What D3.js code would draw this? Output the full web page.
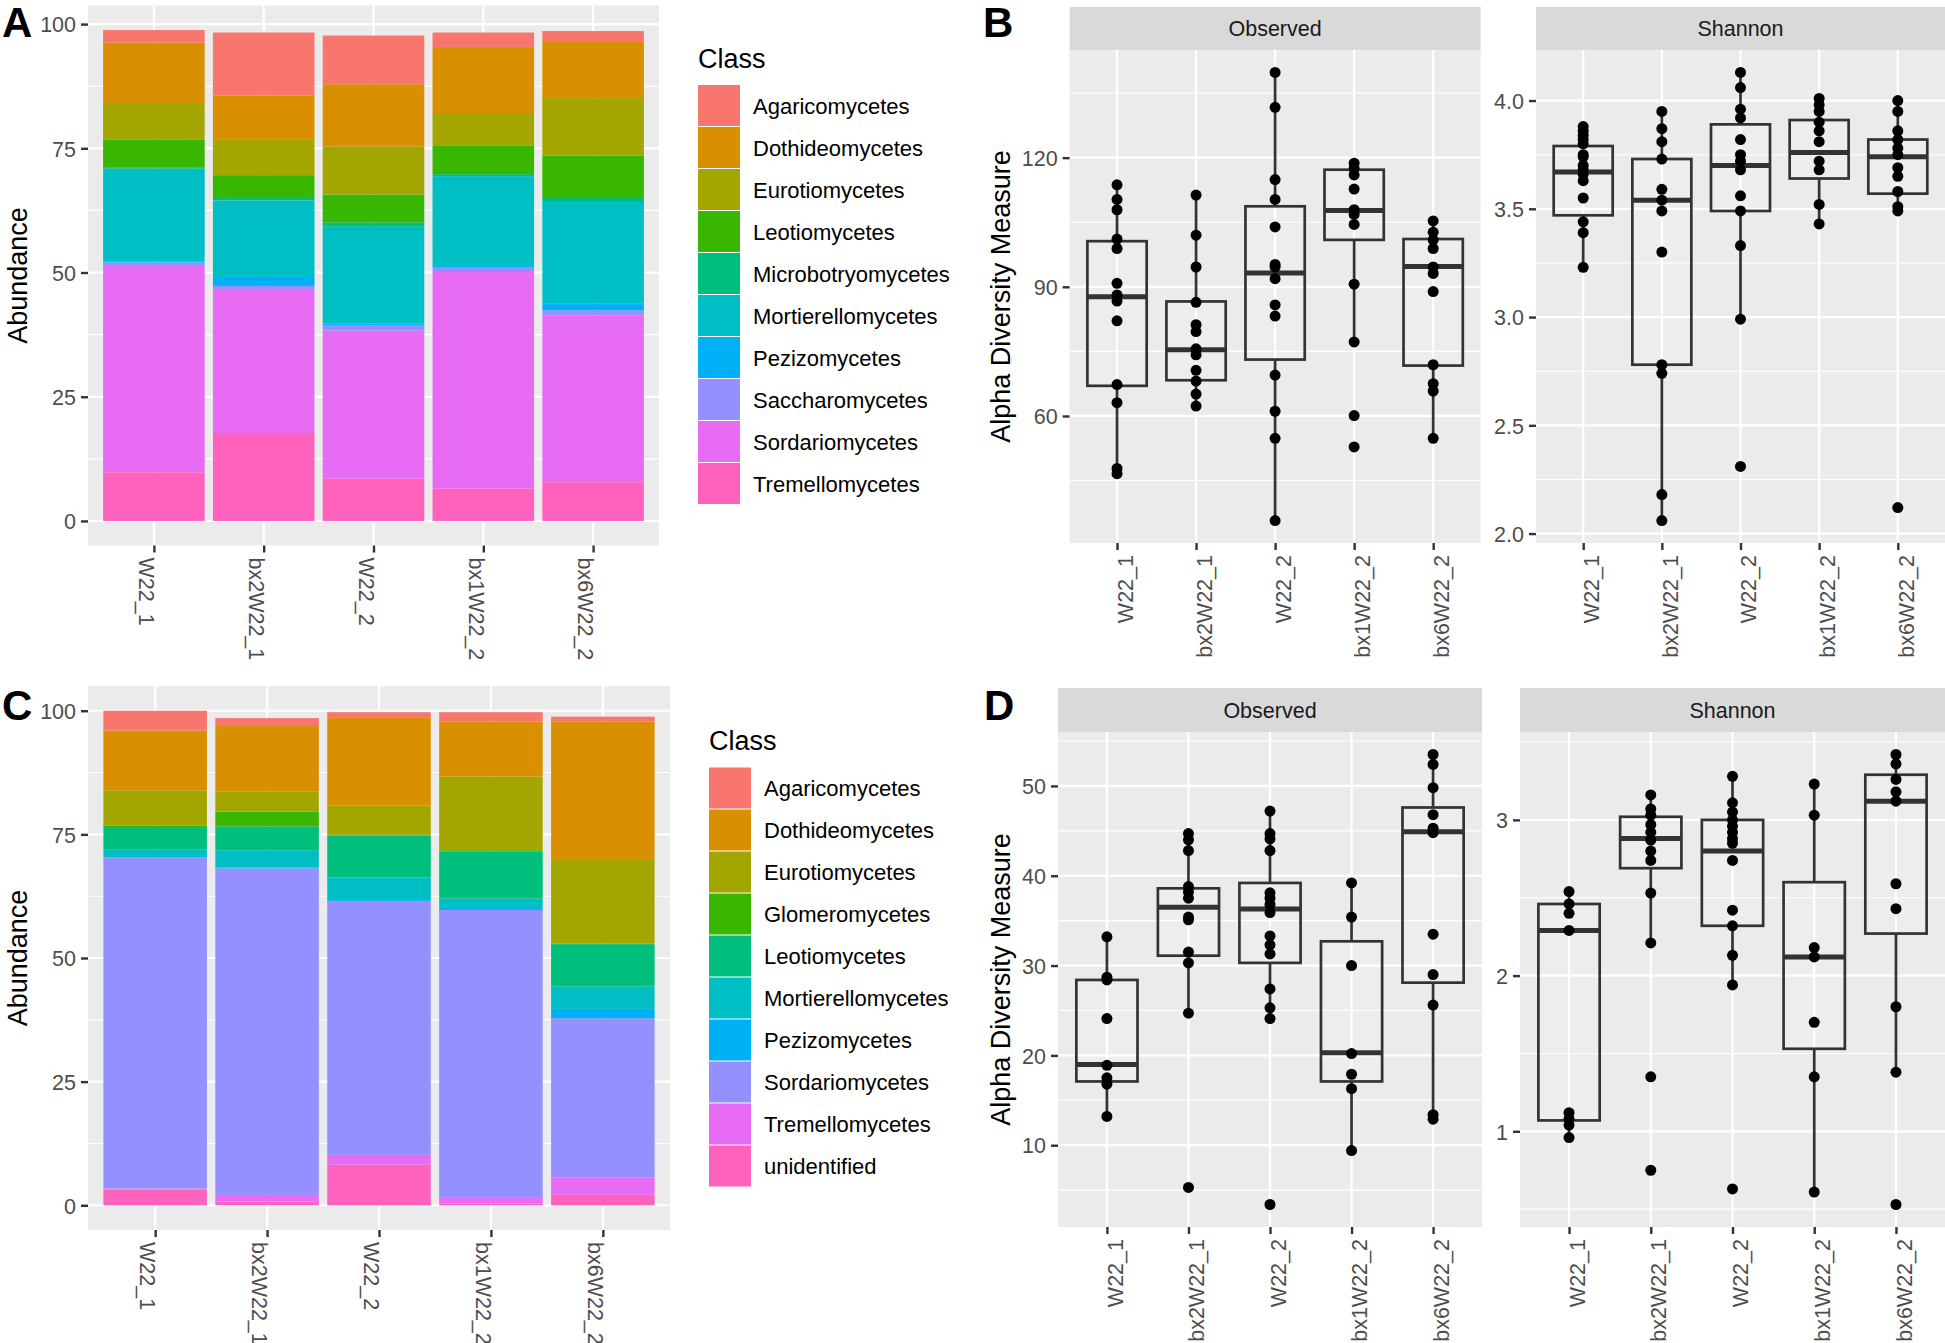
<!DOCTYPE html>
<html><head><meta charset="utf-8">
<script src="https://cdn.jsdelivr.net/npm/d3@7"></script>
<style>
html,body{margin:0;padding:0;background:#fff;}
svg{display:block;font-family:"Liberation Sans",Arial,Helvetica,sans-serif;}
</style></head><body>
<svg id="chart" width="1945" height="1343"></svg>
<script>
// ---------- categories ----------
const samples = ["W22_1", "bx2W22_1", "W22_2", "bx1W22_2", "bx6W22_2"];

// ---------- Panel A: class composition (stacked, %) ----------
const classesA = ["Agaricomycetes","Dothideomycetes","Eurotiomycetes","Leotiomycetes","Microbotryomycetes",
                  "Mortierellomycetes","Pezizomycetes","Saccharomycetes","Sordariomycetes","Tremellomycetes"];
const colorsA = ["#F8766D","#D89000","#A3A500","#39B600","#00BF7D","#00BFC4","#00B0F6","#9590FF","#E76BF3","#FF62BC"];
const aAgaricomycetes     = [2.5, 12.7, 9.8, 2.9, 2.2];
const aDothideomycetes    = [12.4, 8.9, 12.5, 13.3, 11.3];
const aEurotiomycetes     = [7.2, 7.1, 9.7, 6.5, 11.6];
const aLeotiomycetes      = [5.5, 4.6, 5.6, 5.8, 8.3];
const aMicrobotryomycetes = [0.3, 0.5, 0.9, 0.4, 1.0];
const aMortierellomycetes = [18.7, 15.6, 19.5, 17.9, 20.5];
const aPezizomycetes      = [0.2, 1.6, 0.4, 0.4, 1.3];
const aSaccharomycetes    = [0.7, 0.8, 1.0, 1.0, 1.1];
const aSordariomycetes    = [41.5, 28.8, 29.8, 43.6, 33.5];
const aTremellomycetes    = [9.8, 17.7, 8.5, 6.5, 7.8];
const valuesA = [aAgaricomycetes,aDothideomycetes,aEurotiomycetes,aLeotiomycetes,aMicrobotryomycetes,
                 aMortierellomycetes,aPezizomycetes,aSaccharomycetes,aSordariomycetes,aTremellomycetes];

// ---------- Panel C: class composition (stacked, %) ----------
const classesC = ["Agaricomycetes","Dothideomycetes","Eurotiomycetes","Glomeromycetes","Leotiomycetes",
                  "Mortierellomycetes","Pezizomycetes","Sordariomycetes","Tremellomycetes","unidentified"];
const colorsC = ["#F8766D","#D89000","#A3A500","#39B600","#00BF7D","#00BFC4","#00B0F6","#9590FF","#E76BF3","#FF62BC"];
const cAgaricomycetes     = [4.0, 1.6, 1.0, 1.9, 1.0];
const cDothideomycetes    = [12.1, 13.2, 17.9, 11.1, 27.8];
const cEurotiomycetes     = [7.1, 4.1, 5.9, 14.9, 17.1];
const cGlomeromycetes     = [0.5, 3.0, 0.1, 0.3, 0.1];
const cLeotiomycetes      = [4.4, 4.8, 8.5, 9.5, 8.6];
const cMortierellomycetes = [1.5, 3.5, 4.6, 1.9, 4.5];
const cPezizomycetes      = [0.1, 0.2, 0.3, 0.4, 1.9];
const cSordariomycetes    = [66.9, 66.0, 51.2, 58.2, 32.2];
const cTremellomycetes    = [0.2, 1.3, 2.0, 1.1, 3.5];
const cUnidentified       = [3.2, 0.8, 8.2, 0.4, 2.1];
const valuesC = [cAgaricomycetes,cDothideomycetes,cEurotiomycetes,cGlomeromycetes,cLeotiomycetes,
                 cMortierellomycetes,cPezizomycetes,cSordariomycetes,cTremellomycetes,cUnidentified];

const barTicks = [0, 25, 50, 75, 100];
const barMinor = [12.5, 37.5, 62.5, 87.5];

// ---------- Panel B: alpha diversity ----------
const bObservedPoints = [
  [113.7, 110.3, 107.9, 101.1, 98.9, 90.8, 88.1, 86.7, 82.1, 67.3, 63.1, 47.8, 46.6],
  [111.3, 102.0, 94.6, 86.4, 81.2, 79.6, 75.6, 74.2, 70.6, 68.1, 65.1, 62.3],
  [139.8, 131.7, 114.9, 110.3, 103.9, 95.2, 94.6, 91.9, 85.8, 83.2, 69.5, 61.1, 54.8, 35.7],
  [118.7, 117.5, 116.0, 112.7, 107.9, 106.8, 104.5, 90.6, 77.2, 60.1, 52.8],
  [105.3, 102.7, 100.9, 98.9, 94.6, 93.1, 88.9, 71.9, 67.5, 65.8, 54.8]
];
// [lower whisker, Q1, median, Q3, upper whisker]
const bObservedBoxes = [
  [46.6, 67.0, 87.7, 100.6, 113.7],
  [62.3, 68.3, 75.4, 86.6, 111.3],
  [35.7, 73.1, 93.2, 108.7, 139.8],
  [77.2, 100.9, 107.7, 117.2, 118.7],
  [54.8, 71.7, 94.7, 101.1, 105.3]
];
const bShannonPoints = [
  [3.88, 3.86, 3.84, 3.82, 3.80, 3.75, 3.74, 3.70, 3.68, 3.66, 3.63, 3.55, 3.44, 3.39, 3.23],
  [3.95, 3.87, 3.81, 3.73, 3.59, 3.54, 3.49, 3.30, 2.78, 2.74, 2.18, 2.06],
  [4.13, 4.06, 3.96, 3.92, 3.82, 3.75, 3.72, 3.68, 3.56, 3.49, 3.33, 2.99, 2.31],
  [4.01, 3.98, 3.95, 3.90, 3.86, 3.81, 3.72, 3.68, 3.52, 3.43],
  [4.00, 3.95, 3.86, 3.82, 3.78, 3.75, 3.69, 3.65, 3.58, 3.51, 3.49, 2.12]
];
const bShannonBoxes = [
  [3.23, 3.47, 3.67, 3.79, 3.88],
  [2.06, 2.78, 3.54, 3.73, 3.95],
  [2.99, 3.49, 3.70, 3.89, 4.13],
  [3.43, 3.64, 3.76, 3.91, 4.01],
  [3.49, 3.57, 3.74, 3.82, 4.00]
];
const bObservedTicks = [60, 90, 120];
const bObservedMinor = [45, 75, 105, 135];
const bShannonTicks = [2.0, 2.5, 3.0, 3.5, 4.0];
const bShannonMinor = [2.25, 2.75, 3.25, 3.75];

// ---------- Panel D: alpha diversity ----------
const dObservedPoints = [
  [33.2, 28.7, 28.4, 24.1, 18.9, 17.5, 16.8, 13.2],
  [44.7, 44.0, 42.8, 38.8, 38.2, 37.5, 35.4, 35.1, 31.5, 30.3, 24.7, 5.3],
  [47.2, 44.7, 44.1, 42.8, 38.1, 37.5, 36.8, 35.9, 33.3, 32.3, 31.3, 27.4, 25.3, 24.1, 3.4],
  [39.2, 35.4, 30.0, 20.2, 17.9, 16.3, 9.4],
  [53.5, 52.4, 49.8, 46.8, 45.3, 44.8, 33.5, 29.0, 25.6, 13.4, 12.9]
];
const dObservedBoxes = [
  [13.2, 17.1, 19.0, 28.4, 33.2],
  [24.7, 31.1, 36.5, 38.6, 44.7],
  [24.1, 30.3, 36.3, 39.2, 47.2],
  [9.4, 17.1, 20.3, 32.7, 39.2],
  [12.9, 28.1, 44.9, 47.6, 53.5]
];
const dShannonPoints = [
  [2.54, 2.46, 2.40, 2.29, 1.12, 1.08, 1.04, 0.96],
  [3.16, 3.07, 3.03, 2.97, 2.92, 2.87, 2.80, 2.74, 2.53, 2.21, 1.35, 0.75],
  [3.28, 3.11, 3.05, 3.00, 2.96, 2.92, 2.88, 2.85, 2.74, 2.42, 2.32, 2.13, 1.94, 0.63],
  [3.23, 3.03, 2.18, 2.12, 1.70, 1.35, 0.61],
  [3.42, 3.36, 3.26, 3.18, 3.12, 2.59, 2.43, 1.80, 1.38, 0.53]
];
const dShannonBoxes = [
  [0.96, 1.07, 2.29, 2.46, 2.54],
  [2.21, 2.69, 2.88, 3.02, 3.16],
  [1.94, 2.32, 2.80, 3.00, 3.28],
  [0.61, 1.53, 2.12, 2.60, 3.23],
  [1.38, 2.27, 3.12, 3.29, 3.42]
];
const dObservedTicks = [10, 20, 30, 40, 50];
const dObservedMinor = [5, 15, 25, 35, 45, 55];
const dShannonTicks = [1, 2, 3];
const dShannonMinor = [0.5, 1.5, 2.5, 3.5];

// ---------- drawing ----------
const svg = d3.select("#chart");
const TICK_FS = 21.5, TITLE_FS = 27, TICK_COL = "#4D4D4D", LINE_COL = "#333333";

function hline(g, x0, x1, yv, w) {
  g.append("line").attr("x1", x0).attr("x2", x1).attr("y1", yv).attr("y2", yv)
   .attr("stroke", "#fff").attr("stroke-width", w);
}
function vline(g, xv, y0, y1, w) {
  g.append("line").attr("x1", xv).attr("x2", xv).attr("y1", y0).attr("y2", y1)
   .attr("stroke", "#fff").attr("stroke-width", w);
}
function yAxis(g, y, ticks, xPos, fmt) {
  const ax = g.append("g").attr("transform", `translate(${xPos},0)`)
    .call(d3.axisLeft(y).tickValues(ticks).tickSize(7).tickPadding(5).tickFormat(fmt));
  ax.select(".domain").remove();
  ax.selectAll(".tick line").attr("stroke", LINE_COL).attr("stroke-width", 2.4);
  ax.selectAll(".tick text").attr("fill", TICK_COL).attr("font-size", TICK_FS)
    .attr("font-family", "Liberation Sans, Arial, sans-serif").attr("dy", "0.36em");
}
function xAxis(g, x, yPos, mode) {
  const ax = g.append("g").attr("transform", `translate(0,${yPos})`)
    .call(d3.axisBottom(x).tickSize(7));
  ax.select(".domain").remove();
  ax.selectAll(".tick line").attr("stroke", LINE_COL).attr("stroke-width", 2.4);
  const t = ax.selectAll(".tick text").attr("fill", TICK_COL).attr("font-size", TICK_FS)
    .attr("font-family", "Liberation Sans, Arial, sans-serif")
    .attr("x", null).attr("y", null).attr("dy", null)
    .attr("dominant-baseline", "hanging");
  if (mode === "down") {
    t.attr("text-anchor", "start").attr("transform", "translate(0,12) rotate(90)");
  } else {
    t.attr("text-anchor", "end").attr("transform", "translate(0,12) rotate(-90)");
  }
}
function yTitle(txt, xv, yv) {
  svg.append("text").attr("transform", `translate(${xv},${yv}) rotate(-90)`)
    .attr("text-anchor", "middle").attr("font-size", TITLE_FS).attr("fill", "#000").text(txt);
}
function panelLetter(txt, xv, yv) {
  svg.append("text").attr("x", xv).attr("y", yv).attr("font-size", 42).attr("font-weight", "bold")
    .attr("fill", "#000").text(txt);
}

function drawBars(o) {
  const g = svg.append("g");
  const x = d3.scalePoint().domain(samples).range(o.xr).padding(0.6);
  const totals = samples.map((s, i) => d3.sum(o.values, v => v[i]));
  const maxT = d3.max(totals);
  const y = d3.scaleLinear().domain([-0.05 * maxT, maxT * 1.05]).range(o.yr);
  g.append("rect").attr("x", o.xr[0]).attr("y", o.yr[1]).attr("width", o.xr[1] - o.xr[0])
   .attr("height", o.yr[0] - o.yr[1]).attr("fill", "#EBEBEB");
  barMinor.forEach(v => hline(g, o.xr[0], o.xr[1], y(v), 1.1));
  barTicks.forEach(v => hline(g, o.xr[0], o.xr[1], y(v), 2.2));
  samples.forEach(s => vline(g, x(s), o.yr[1], o.yr[0], 2.2));

  const rows = samples.map((s, i) => {
    const r = { sample: s };
    o.classes.forEach((c, k) => { r[c] = o.values[k][i]; });
    return r;
  });
  const color = d3.scaleOrdinal().domain(o.classes).range(o.colors);
  const layers = d3.stack().keys(o.classes.slice().reverse())(rows);
  const bw = x.step() * 0.925;
  layers.forEach(layer => {
    g.selectAll(null).data(layer).enter().append("rect")
      .attr("x", d => x(d.data.sample) - bw / 2).attr("width", bw)
      .attr("y", d => y(d[1])).attr("height", d => Math.max(0, y(d[0]) - y(d[1])))
      .attr("fill", color(layer.key));
  });
  yAxis(g, y, barTicks, o.xr[0], d3.format("d"));
  xAxis(g, x, o.yr[0], "down");

  // legend
  const lg = svg.append("g");
  lg.append("text").attr("x", o.legX).attr("y", o.legTitleY).attr("font-size", TITLE_FS)
    .attr("fill", "#000").text("Class");
  o.classes.forEach((c, k) => {
    const ky = o.legKeyY + k * 42;
    lg.append("rect").attr("x", o.legX).attr("y", ky).attr("width", 42).attr("height", 41)
      .attr("fill", color(c));
    lg.append("text").attr("x", o.legX + 55).attr("y", ky + 21).attr("dy", "0.36em")
      .attr("font-size", 22).attr("fill", "#000").text(c);
  });
}

function drawBox(o) {
  const g = svg.append("g");
  const x = d3.scalePoint().domain(samples).range(o.xr).padding(0.6);
  const [mn, mx] = d3.extent(o.points.flat());
  const pad = (mx - mn) * 0.05;
  const y = d3.scaleLinear().domain([mn - pad, mx + pad]).range(o.yr);
  // strip
  g.append("rect").attr("x", o.xr[0]).attr("y", o.strip[0]).attr("width", o.xr[1] - o.xr[0])
   .attr("height", o.strip[1] - o.strip[0]).attr("fill", "#D9D9D9");
  g.append("text").attr("x", (o.xr[0] + o.xr[1]) / 2).attr("y", (o.strip[0] + o.strip[1]) / 2)
   .attr("dy", "0.36em").attr("text-anchor", "middle").attr("font-size", 21.5)
   .attr("fill", "#1A1A1A").text(o.label);
  // panel
  g.append("rect").attr("x", o.xr[0]).attr("y", o.yr[1]).attr("width", o.xr[1] - o.xr[0])
   .attr("height", o.yr[0] - o.yr[1]).attr("fill", "#EBEBEB");
  o.minor.forEach(v => hline(g, o.xr[0], o.xr[1], y(v), 1.1));
  o.ticks.forEach(v => hline(g, o.xr[0], o.xr[1], y(v), 2.2));
  samples.forEach(s => vline(g, x(s), o.yr[1], o.yr[0], 2.2));

  const bw = x.step() * 0.75;
  samples.forEach((s, i) => {
    const b = o.boxes[i], cx = x(s);
    g.append("line").attr("x1", cx).attr("x2", cx).attr("y1", y(b[0])).attr("y2", y(b[1]))
     .attr("stroke", LINE_COL).attr("stroke-width", 2.7);
    g.append("line").attr("x1", cx).attr("x2", cx).attr("y1", y(b[3])).attr("y2", y(b[4]))
     .attr("stroke", LINE_COL).attr("stroke-width", 2.7);
    g.append("rect").attr("x", cx - bw / 2).attr("width", bw).attr("y", y(b[3]))
     .attr("height", y(b[1]) - y(b[3])).attr("fill", "#fff").attr("fill-opacity", 0.1)
     .attr("stroke", LINE_COL).attr("stroke-width", 2.7);
    g.append("line").attr("x1", cx - bw / 2).attr("x2", cx + bw / 2).attr("y1", y(b[2])).attr("y2", y(b[2]))
     .attr("stroke", LINE_COL).attr("stroke-width", 5);
  });
  samples.forEach((s, i) => {
    g.selectAll(null).data(o.points[i]).enter().append("circle")
     .attr("cx", x(s)).attr("cy", d => y(d)).attr("r", 5.5).attr("fill", "#000");
  });
  yAxis(g, y, o.ticks, o.xr[0], o.fmt);
  xAxis(g, x, o.yr[0], "up");
}

// Panel A
panelLetter("A", 2, 37);
drawBars({ xr: [88, 659], yr: [545.5, 5.5], classes: classesA, colors: colorsA, values: valuesA,
           legX: 698, legTitleY: 68, legKeyY: 85 });
yTitle("Abundance", 27, 275.5);

// Panel C
panelLetter("C", 2, 720);
drawBars({ xr: [88, 670], yr: [1230, 686], classes: classesC, colors: colorsC, values: valuesC,
           legX: 709, legTitleY: 750, legKeyY: 767.5 });
yTitle("Abundance", 27, 958);

// Panel B
panelLetter("B", 983, 37);
drawBox({ xr: [1069.6, 1480.6], yr: [543, 50], strip: [7, 50], label: "Observed",
          points: bObservedPoints, boxes: bObservedBoxes, ticks: bObservedTicks, minor: bObservedMinor,
          fmt: d3.format("d") });
drawBox({ xr: [1536, 1945], yr: [543, 50], strip: [7, 50], label: "Shannon",
          points: bShannonPoints, boxes: bShannonBoxes, ticks: bShannonTicks, minor: bShannonMinor,
          fmt: d3.format(".1f") });
yTitle("Alpha Diversity Measure", 1010, 296.5);

// Panel D
panelLetter("D", 984, 720);
drawBox({ xr: [1058, 1482], yr: [1227, 732], strip: [688, 732], label: "Observed",
          points: dObservedPoints, boxes: dObservedBoxes, ticks: dObservedTicks, minor: dObservedMinor,
          fmt: d3.format("d") });
drawBox({ xr: [1520, 1945], yr: [1227, 732], strip: [688, 732], label: "Shannon",
          points: dShannonPoints, boxes: dShannonBoxes, ticks: dShannonTicks, minor: dShannonMinor,
          fmt: d3.format("d") });
yTitle("Alpha Diversity Measure", 1010, 979.5);
</script>
</body></html>
